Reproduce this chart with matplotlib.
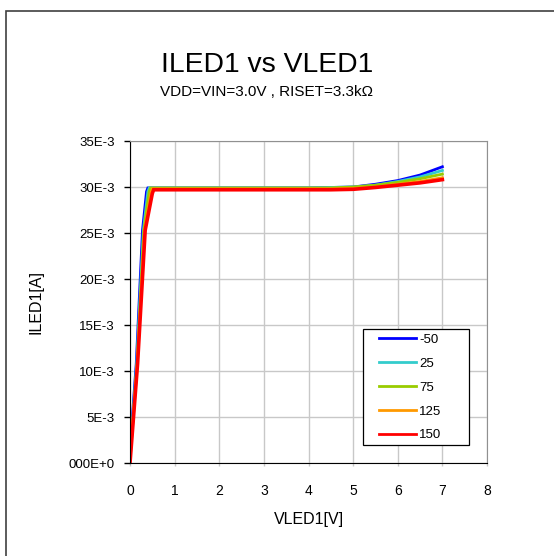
import matplotlib
matplotlib.use("Agg")
import matplotlib.pyplot as plt
from matplotlib.patches import Rectangle

plt.rcParams['font.family'] = ['Liberation Sans', 'DejaVu Sans']

# temperatures (legend labels)
temps = ['-50', '25', '75', '125', '150']
colors = ['#0000FF', '#33CCCC', '#99CC00', '#FF9900', '#FF0000']

# VLED1 [V] and ILED1 [mA] for each temperature
v_m50 = [0, 0.14, 0.28, 0.37, 0.40, 1, 2, 3, 4, 4.5, 5, 5.5, 6, 6.5, 7]
i_m50 = [1.5, 10.8, 25.3, 29.5, 29.9, 29.9, 29.9, 29.9, 29.9, 29.95, 30.0, 30.3, 30.7, 31.3, 32.2]
v_25 = [0, 0.15, 0.30, 0.40, 0.43, 1, 2, 3, 4, 4.5, 5, 5.5, 6, 6.5, 7]
i_25 = [1.0, 10.8, 25.3, 29.5, 29.9, 29.9, 29.9, 29.9, 29.9, 29.95, 30.0, 30.2, 30.6, 31.1, 31.8]
v_75 = [0, 0.16, 0.31, 0.43, 0.46, 1, 2, 3, 4, 4.5, 5, 5.5, 6, 6.5, 7]
i_75 = [0.6, 10.8, 25.3, 29.5, 29.9, 29.9, 29.9, 29.9, 29.9, 29.9, 30.0, 30.2, 30.5, 30.9, 31.4]
v_125 = [0, 0.165, 0.325, 0.47, 0.50, 1, 2, 3, 4, 4.5, 5, 5.5, 6, 6.5, 7]
i_125 = [0.3, 10.8, 25.3, 29.4, 29.8, 29.8, 29.8, 29.8, 29.8, 29.8, 29.85, 30.0, 30.3, 30.6, 31.0]
v_150 = [0, 0.17, 0.34, 0.50, 0.53, 1, 2, 3, 4, 4.5, 5, 5.5, 6, 6.5, 7]
i_150 = [0, 10.8, 25.3, 29.3, 29.7, 29.7, 29.7, 29.7, 29.7, 29.7, 29.75, 29.95, 30.2, 30.45, 30.8]

ytick_vals = [0, 5e-3, 10e-3, 15e-3, 20e-3, 25e-3, 30e-3, 35e-3]
ytick_labels = ['000E+0', '5E-3', '10E-3', '15E-3', '20E-3', '25E-3', '30E-3', '35E-3']

series = [(v_m50, i_m50), (v_25, i_25), (v_75, i_75), (v_125, i_125), (v_150, i_150)]
widths = [2.0, 2.0, 2.0, 2.0, 2.6]

fig = plt.figure(figsize=(5.54, 5.56), dpi=100)
fig.patch.set_facecolor('white')
# outer frame of the chart area (runs off the right and bottom edges)
fig.patches.append(Rectangle((5.5 / 554, -0.1), 1.2, 1 - 11 / 556 + 0.1,
                             transform=fig.transFigure, fill=False,
                             edgecolor='#404040', linewidth=1.2))

ax = fig.add_axes([130 / 554, 1 - 463 / 556, 357 / 554, 322 / 556])
for (v, i), c, lab, w in zip(series, colors, temps, widths):
    ax.plot(v, [x * 1e-3 for x in i], color=c, lw=w, label=lab,
            solid_joinstyle='miter')

ax.set_xlim(0, 8)
ax.set_ylim(0, 35e-3)
ax.set_xticks(range(9))
ax.set_yticks(ytick_vals)
ax.set_yticklabels(ytick_labels)
ax.grid(True, color='#C8C8C8', lw=1)
ax.set_axisbelow(True)
for s in ['top', 'right']:
    ax.spines[s].set_color('#909090')
for s in ['left', 'bottom']:
    ax.spines[s].set_color('black')
ax.tick_params(axis='y', direction='out', length=4, width=1, pad=7,
               labelsize=9.5, colors='black')
ax.tick_params(axis='x', direction='out', length=2, width=1, pad=13,
               labelsize=10, color='#C8C8C8', labelcolor='black')
ax.set_xlabel('VLED1[V]', fontsize=11.5, labelpad=10)
ax.set_ylabel('ILED1[A]', fontsize=11.5, labelpad=18)

# legend box
ax.add_patch(Rectangle((0.653, 0.056), 0.297, 0.36, transform=ax.transAxes,
                       facecolor='white', edgecolor='black', lw=0.9, zorder=5))
leg = ax.legend(loc='center left', bbox_to_anchor=(0.697, 0.234),
                borderaxespad=0, borderpad=0, frameon=False, fontsize=9.5,
                handlelength=2.8, handletextpad=0.25, labelspacing=0.88)
leg.set_zorder(6)
for ln in leg.get_lines():
    ln.set_linewidth(2)

fig.text(267 / 554, 1 - 65 / 556, 'ILED1 vs VLED1', ha='center', va='center',
         fontsize=20.3)
fig.text(266 / 554, 1 - 92 / 556, 'VDD=VIN=3.0V , RISET=3.3k\u03a9',
         ha='center', va='center', fontsize=11)

fig.savefig('out.png', dpi=100)
